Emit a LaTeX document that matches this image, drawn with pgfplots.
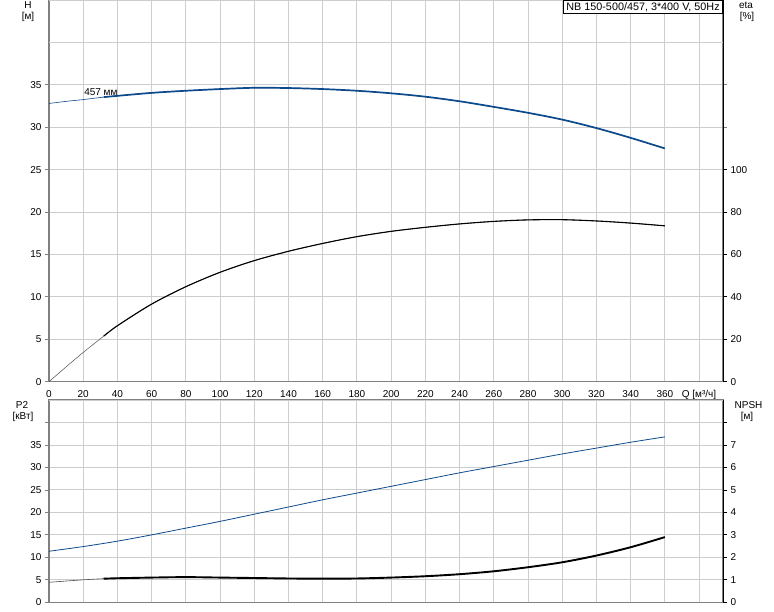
\documentclass[border=0pt]{standalone}
\usepackage{fontspec}
\setmainfont{Liberation Sans}
\usepackage{pgfplots}
\usepackage{pgfplotstable}
\pgfplotsset{compat=1.18}
\definecolor{hblue}{RGB}{12,74,140}
\definecolor{gridc}{RGB}{205,205,205}
\definecolor{axc}{RGB}{128,128,128}

\pgfplotstableread{
q h
0 32.8
10 33.05
20 33.26
32 33.55
40 33.7
60 34.05
80 34.3
100 34.5
120 34.65
140 34.62
160 34.5
180 34.3
200 34.0
220 33.6
240 33.06
260 32.4
280 31.7
300 30.9
320 29.9
340 28.75
360 27.5
}\Hdata

\pgfplotstableread{
q eta
0 0
10 7.0
20 13.8
32 21.5
40 26.4
60 36.6
80 44.8
100 51.6
120 57.1
140 61.5
160 65.2
180 68.4
200 70.9
220 72.8
240 74.4
260 75.6
280 76.3
300 76.4
320 75.8
340 74.8
360 73.5
}\Etadata

\pgfplotstableread{
q p
0 11.35
20 12.4
40 13.6
60 15.0
80 16.5
100 18.0
120 19.6
140 21.2
160 22.8
180 24.3
200 25.8
220 27.3
240 28.8
260 30.2
280 31.6
300 33.0
320 34.3
340 35.6
360 36.8
}\Pdata

\pgfplotstableread{
q n
0 0.89
20 1.0
32 1.05
40 1.07
60 1.1
80 1.12
100 1.1
120 1.08
140 1.06
160 1.05
180 1.06
200 1.1
220 1.16
240 1.25
260 1.38
280 1.56
300 1.78
320 2.08
340 2.45
360 2.9
}\Ndata

\pgfplotsset{
  base/.style={
    scale only axis, width=674pt,
    xmin=0, xmax=394,
    font=\fontsize{10}{12}\selectfont,
    tick label style={font=\fontsize{10}{12}\selectfont, black},
    /pgf/number format/assume math mode=true,
    tick align=outside, major tick length=4pt,
    tick style={axc, line width=0.8pt},
  },
  leftax/.style={
    base,
    grid=major, major grid style={gridc, line width=0.9pt},
    axis line style={axc, line width=1.6pt},
    xtick={0,20,...,380},
    xtick style={draw=none},
  },
  rightax/.style={
    base,
    axis x line=none, axis y line*=right,
    y axis line style={black, line width=0.8pt},
    ytick style={black, line width=0.8pt},
  },
}

\begin{document}
\begin{tikzpicture}[x=1pt,y=1pt]
\useasboundingbox (0,0) rectangle (774,611);

% ---------- top panel ----------
\begin{axis}[leftax, at={(49pt,229.3pt)}, anchor=south west, height=381.7pt,
  ymin=0, ymax=45, ytick={0,5,...,35},
  extra y ticks={40,45}, extra y tick labels={},
  extra y tick style={grid=major, tick style={draw=none}},
  xticklabels={0,20,40,60,80,100,120,140,160,180,200,220,240,260,280,300,320,340,360,{Q [м³/ч]}},
  xticklabel style={yshift=-1pt},
]
\addplot[hblue, line width=0.6pt, smooth] table[x=q,y=h] {\Hdata};
\addplot[hblue, line width=1.7pt, smooth, restrict x to domain=32:360] table[x=q,y=h] {\Hdata};
\node[anchor=west, inner sep=0pt] at (axis cs:20.5,34.15) {457 мм};
\end{axis}
\begin{axis}[rightax, at={(49pt,229.3pt)}, anchor=south west, height=381.7pt,
  ymin=0, ymax=180, ytick={0,20,...,100},
]
\addplot[black!70, line width=0.5pt, smooth] table[x=q,y=eta] {\Etadata};
\addplot[black, line width=1.1pt, smooth, restrict x to domain=32:360] table[x=q,y=eta] {\Etadata};
\node[anchor=north east, draw=black, line width=0.6pt, fill=white, inner xsep=3pt, inner ysep=2pt, font=\fontsize{10.8}{12}\selectfont] at (rel axis cs:1,1) {NB 150-500/457, 3*400 V, 50Hz};
\end{axis}

% ---------- bottom panel ----------
\begin{axis}[leftax, at={(49pt,8.7pt)}, anchor=south west, height=202.3pt,
  ymin=0, ymax=45, ytick={0,5,...,40},
  yticklabels={0,5,10,15,20,25,30,35,{}},
  extra y ticks={45}, extra y tick labels={},
  extra y tick style={grid=major, tick style={draw=none}},
  xticklabels={},
]
\addplot[hblue, line width=0.8pt, smooth] table[x=q,y=p] {\Pdata};
\end{axis}
\begin{axis}[rightax, at={(49pt,8.7pt)}, anchor=south west, height=202.3pt,
  ymin=0, ymax=9, ytick={0,1,...,8},
  yticklabels={0,1,2,3,4,5,6,7,{}},
]
\addplot[black!70, line width=0.6pt, smooth] table[x=q,y=n] {\Ndata};
\addplot[black, line width=1.9pt, smooth, restrict x to domain=32:360] table[x=q,y=n] {\Ndata};
\end{axis}

% ---------- axis titles ----------
\begin{scope}[font=\fontsize{10}{12}\selectfont]
\node at (28,606) {H};
\node at (28,594) {[м]};
\node at (746,606) {eta};
\node at (747,594) {[\%]};
\node at (22,206) {P2};
\node at (23,194) {[кВт]};
\node at (748.5,206) {NPSH};
\node at (747,194) {[м]};
\end{scope}
\end{tikzpicture}
\end{document}
